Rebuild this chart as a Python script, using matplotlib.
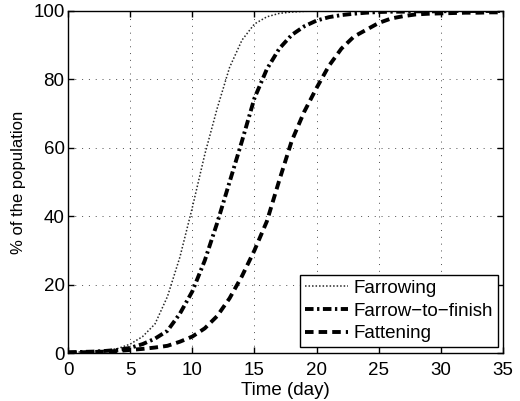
import matplotlib
matplotlib.use("Agg")
import matplotlib.pyplot as plt

days = list(range(0, 36))
farrowing = [0.3, 0.3, 0.4, 0.7, 1.3, 2.6, 4.8, 8.5, 16.5, 28, 42.5, 58, 71.5, 83.5, 91.5, 96.2,
             98.3, 99.3, 99.7, 99.9, 100, 100, 100, 100, 100, 100, 100, 100, 100, 100,
             100, 100, 100, 100, 100, 100]
farrow_to_finish = [0.2, 0.3, 0.4, 0.6, 0.9, 1.5, 2.6, 4.2, 6.5, 11.5, 18, 27, 38, 50, 62, 74.5,
                    83, 89, 93, 95.5, 97.2, 98.2, 98.8, 99.2, 99.5, 99.7, 99.8, 99.8, 99.9,
                    99.9, 99.9, 100, 100, 100, 100, 100]
fattening = [0.1, 0.2, 0.3, 0.4, 0.6, 0.9, 1.2, 1.6, 2.1, 3.3, 4.8, 7.2, 10.8, 16, 22.5, 30,
             38.5, 50.5, 62, 70.5, 77.5, 84, 89, 92.5, 94.5, 96.5, 97.8, 98.5, 99, 99.2, 99.3,
             99.4, 99.5, 99.5, 99.6, 99.6]
labels = ["Farrowing", "Farrow\u2212to\u2212finish", "Fattening"]
xticks = [0, 5, 10, 15, 20, 25, 30, 35]
yticks = [0, 20, 40, 60, 80, 100]

plt.rcParams['font.family'] = ['Liberation Sans', 'DejaVu Sans']
fs = 13.5
fig = plt.figure(figsize=(5.2, 4.01), dpi=100)
ax = fig.add_axes([0.1308, 0.1197, 0.8365, 0.8529])

ax.plot(days, farrowing, color='0.15', lw=1.1, linestyle=(0, (1, 1.3)), label=labels[0])
ax.plot(days, farrow_to_finish, color='black', lw=2.8, linestyle=(0, (2.2, 0.9, 0.6, 0.9)), label=labels[1])
ax.plot(days, fattening, color='black', lw=2.8, linestyle=(0, (2.2, 1.3)), label=labels[2])

ax.set_xlim(0, 35)
ax.set_ylim(0, 100)
ax.set_xticks(xticks)
ax.set_yticks(yticks)
ax.tick_params(direction='in', top=True, right=True, labelsize=fs, length=4, width=1)
ax.tick_params(axis='x', pad=6.5)
ax.tick_params(axis='y', pad=2.5)
ax.grid(True, linestyle=(0, (1, 6)), color='black', lw=0.7, alpha=0.7)
for s in ax.spines.values():
    s.set_linewidth(1.0)
ax.set_xlabel("Time (day)", fontsize=fs, labelpad=2)
ax.set_ylabel("% of the population", fontsize=12, labelpad=5)

leg = ax.legend(loc='lower right', bbox_to_anchor=(0.9885, 0.0175), fontsize=fs,
                fancybox=False, edgecolor='black', framealpha=1, borderpad=0.25,
                handlelength=2.3, handletextpad=0.3, labelspacing=0.3, borderaxespad=0)
leg.get_frame().set_linewidth(1.0)

fig.savefig("out.png", dpi=100)
